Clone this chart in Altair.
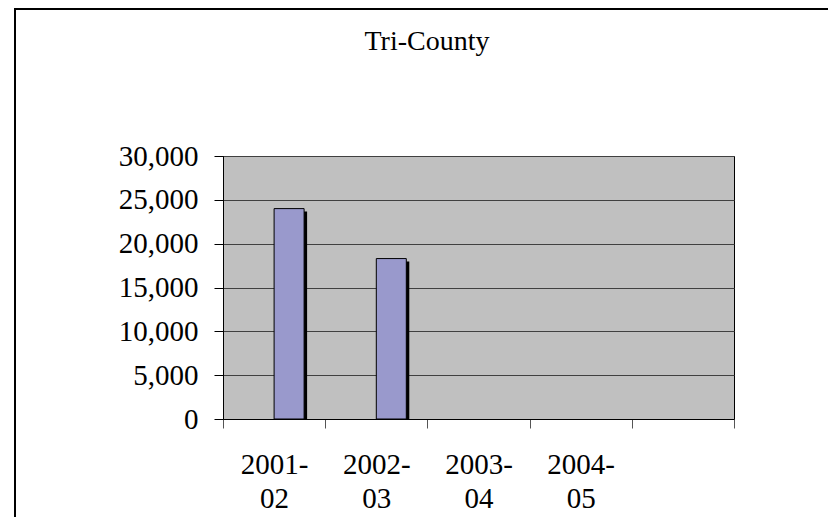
import altair as alt
import pandas as pd

# ---- data ----
categories = ["2001-02", "2002-03", "2003-04", "2004-05", " "]
values = [24000, 18300, None, None, None]
y_ticks = [0, 5000, 10000, 15000, 20000, 25000, 30000]
title_text = ["Tri-County"]

df = pd.DataFrame({"year": categories, "count": values})

FONT = "Times New Roman, Liberation Serif, serif"
W, H = 511, 263

x_enc = alt.X(
    "year:N",
    sort=categories,
    scale=alt.Scale(domain=categories, paddingInner=0, paddingOuter=0),
    axis=alt.Axis(
        title=None, labelAngle=0, tickBand="extent", tickSize=9,
        tickColor="#555555", domainColor="black", grid=False,
        labelFont=FONT, labelFontSize=29, labelColor="black",
        labelPadding=22, labelLineHeight=34,
        labelExpr="[slice(datum.label, 0, 5), slice(datum.label, 5)]",
    ),
)
y_enc = alt.Y(
    "count:Q",
    scale=alt.Scale(domain=[0, 30000], nice=False, zero=True),
    axis=alt.Axis(
        title=None, values=y_ticks, grid=True,
        labelExpr="datum.value == 0 ? '0' : floor(datum.value / 1000) + ',000'",
        gridColor="#404040", gridWidth=1, tickSize=9, tickColor="black",
        domainColor="black", labelFont=FONT, labelFontSize=29,
        labelColor="black", labelPadding=16,
    ),
)

border = alt.Chart(pd.DataFrame({"b": [0]})).mark_rect(
    filled=False, stroke="black", strokeWidth=2
).encode(x=alt.value(-208), x2=alt.value(700), y=alt.value(-147), y2=alt.value(600))

shadow = alt.Chart(df).mark_bar(
    size=30, xOffset=18, yOffset=3, color="black", clip=True
).encode(x=x_enc, y=y_enc)

bars = alt.Chart(df).mark_bar(
    size=30, xOffset=15, color="#9999CC", stroke="black", strokeWidth=1
).encode(x=x_enc, y=y_enc)

title = alt.Chart(pd.DataFrame({"t": title_text})).mark_text(
    font=FONT, fontSize=28, align="center", baseline="alphabetic", color="black"
).encode(text="t:N", x=alt.value(204), y=alt.value(-106))

chart = alt.layer(border, shadow, bars, title).properties(
    width=W, height=H,
    padding={"left": 215, "top": 148, "right": 94, "bottom": 98},
    autosize=alt.AutoSizeParams(type="none"),
    background="white",
).configure_view(fill="#C0C0C0", stroke="black", strokeWidth=1)

chart.save("out.html", embed_options={"renderer": "svg", "actions": False})
